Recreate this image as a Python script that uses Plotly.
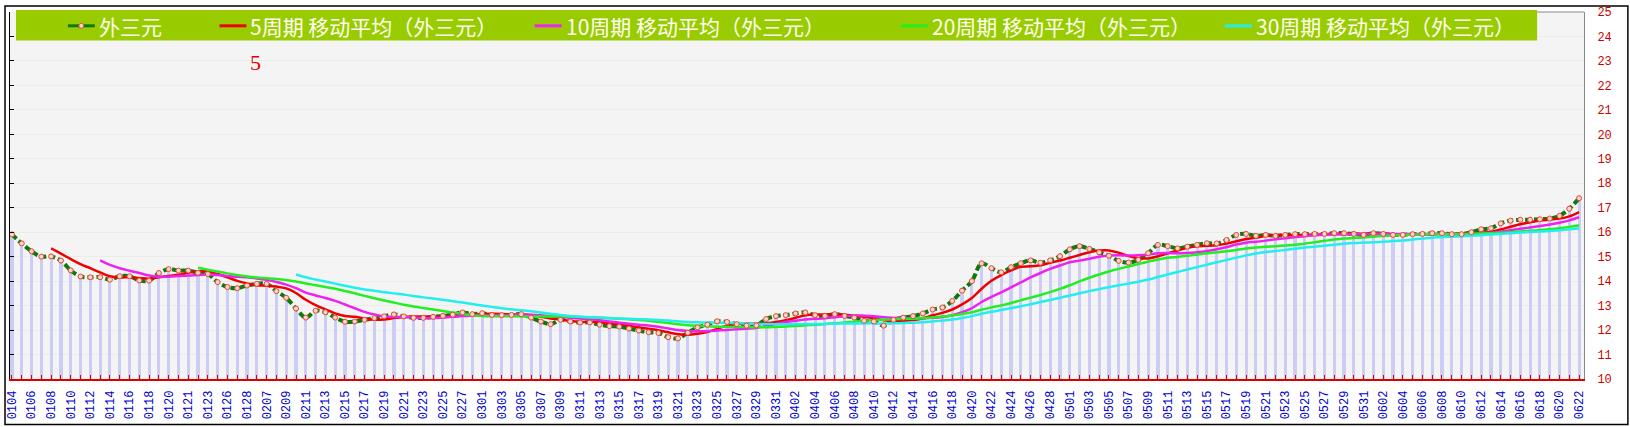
import pandas as pd
import plotly.graph_objects as go

# every second trading day is labelled on the x axis
date_labels = [
    "0104", "0106", "0108", "0110", "0112", "0114", "0116", "0118", "0120", "0121",
    "0123", "0126", "0128", "0207", "0209", "0211", "0213", "0215", "0217", "0219",
    "0221", "0223", "0225", "0227", "0301", "0303", "0305", "0307", "0309", "0311",
    "0313", "0315", "0317", "0319", "0321", "0323", "0325", "0327", "0329", "0331",
    "0402", "0404", "0406", "0408", "0410", "0412", "0414", "0416", "0418", "0420",
    "0422", "0424", "0426", "0428", "0501", "0503", "0505", "0507", "0509", "0511",
    "0513", "0515", "0517", "0519", "0521", "0523", "0525", "0527", "0529", "0531",
    "0602", "0604", "0606", "0608", "0610", "0612", "0614", "0616", "0618", "0620",
    "0622",
]

# 外三元 price, one value per trading day
price = [
    15.91, 15.54, 15.22, 15.00, 15.01, 14.84, 14.44, 14.19, 14.16, 14.16,
    14.06, 14.20, 14.20, 14.03, 14.02, 14.33, 14.49, 14.43, 14.43, 14.34,
    14.29, 13.96, 13.76, 13.71, 13.82, 13.89, 13.89, 13.59, 13.32, 12.88,
    12.51, 12.79, 12.73, 12.51, 12.34, 12.35, 12.42, 12.49, 12.56, 12.64,
    12.56, 12.50, 12.50, 12.54, 12.58, 12.63, 12.72, 12.65, 12.69, 12.62,
    12.61, 12.62, 12.65, 12.51, 12.35, 12.24, 12.42, 12.35, 12.31, 12.31,
    12.22, 12.16, 12.14, 12.06, 11.98, 11.91, 11.88, 11.71, 11.66, 11.89,
    12.11, 12.22, 12.36, 12.33, 12.24, 12.18, 12.19, 12.45, 12.57, 12.61,
    12.68, 12.72, 12.61, 12.58, 12.65, 12.58, 12.51, 12.38, 12.35, 12.18,
    12.42, 12.51, 12.57, 12.68, 12.84, 12.92, 13.19, 13.61, 14.00, 14.73,
    14.53, 14.36, 14.57, 14.73, 14.85, 14.75, 14.85, 15.02, 15.30, 15.43,
    15.32, 15.18, 15.04, 14.83, 14.76, 14.87, 15.14, 15.48, 15.43, 15.34,
    15.41, 15.48, 15.55, 15.54, 15.68, 15.89, 15.93, 15.85, 15.89, 15.85,
    15.89, 15.92, 15.92, 15.93, 15.93, 15.96, 15.96, 15.93, 15.89, 15.96,
    15.93, 15.89, 15.89, 15.92, 15.93, 15.96, 15.96, 15.92, 15.92, 16.00,
    16.12, 16.16, 16.36, 16.47, 16.51, 16.51, 16.53, 16.56, 16.67, 16.96,
    17.39,
]

ma_periods = [5, 10, 20, 30]
ma_colors = ["#ee0000", "#ee22ee", "#22ee22", "#22eeee"]

W, H = 1630, 427
L, R, T, B = 6, 46, 7, 48


def px(x):
    return (x - L) / (W - L - R)


def py(y):
    return 1 - (y - T) / (H - T - B)


idx = list(range(len(price)))
s = pd.Series(price)
ticktext = [date_labels[i // 2] if i % 2 == 0 else "" for i in idx]

fig = go.Figure()
fig.add_trace(go.Bar(
    x=idx, y=price, width=0.32,
    marker=dict(color="#cbcdf6", line=dict(width=0)),
    hoverinfo="skip",
))
fig.add_trace(go.Scatter(
    x=idx, y=price, mode="lines",
    line=dict(color="#0a7a0a", width=4, dash="6px,3px", shape="spline"),
    name="外三元",
))
for p, c in zip(ma_periods, ma_colors):
    ma = s.rolling(p).mean()
    fig.add_trace(go.Scatter(
        x=idx, y=ma, mode="lines",
        line=dict(color=c, width=2.5, shape="spline"),
        name=f"{p}周期 移动平均（外三元）",
    ))
# point markers sit on the right-hand axis so they draw above every line
fig.add_trace(go.Scatter(
    x=idx, y=price, mode="markers", yaxis="y2",
    marker=dict(size=5, color="#ffd6cc", line=dict(color="#e04a3a", width=1)),
    hoverinfo="skip",
))

# hand-built legend strip across the top of the plot
shapes = [
    dict(type="rect", xref="paper", yref="paper",
         x0=px(12), x1=px(1537), y0=py(36), y1=py(5),
         fillcolor="#99cc00", line=dict(width=0), layer="above"),
    # outer frame and plot frame
    dict(type="rect", xref="paper", yref="paper",
         x0=px(1), x1=px(W - 2), y0=py(H - 2), y1=py(1),
         line=dict(color="black", width=1.5), layer="above"),
    dict(type="line", xref="paper", yref="paper",
         x0=px(1537), x1=1, y0=1, y1=1,
         line=dict(color="#888888", width=1), layer="above"),
]
annotations = []
leg_names = ["外三元"] + [f"{p}周期 移动平均（外三元）" for p in ma_periods]
leg_colors = ["#0a7a0a"] + ma_colors
leg_x = [64, 216, 532, 899, 1224]
for name, c, x0 in zip(leg_names, leg_colors, leg_x):
    shapes.append(dict(type="line", xref="paper", yref="paper",
                       x0=px(x0), x1=px(x0 + 27), y0=py(21), y1=py(21),
                       line=dict(color=c, width=3), layer="above"))
    annotations.append(dict(x=px(x0 + 29), y=py(21), xref="paper", yref="paper",
                            text=name, showarrow=False, xanchor="left", yanchor="middle",
                            font=dict(family="Noto Sans CJK SC", size=21, color="#fffff0")))
shapes.append(dict(type="circle", xref="paper", yref="paper",
                   x0=px(75), x1=px(80), y0=py(23.5), y1=py(18.5),
                   fillcolor="#ffd6cc", line=dict(color="#e04a3a", width=1), layer="above"))
annotations.append(dict(x=px(252), y=py(58), xref="paper", yref="paper", text="5",
                        showarrow=False, xanchor="center", yanchor="middle",
                        font=dict(family="Liberation Serif", size=22, color="#dd0000")))

fig.update_layout(
    width=W, height=H,
    margin=dict(l=L, r=R, t=T, b=B),
    paper_bgcolor="white",
    plot_bgcolor="#f5f4f4",
    showlegend=False,
    bargap=0,
    shapes=shapes,
    annotations=annotations,
    xaxis=dict(
        range=[-0.2, len(price) - 0.5],
        tickvals=idx, ticktext=ticktext, tickangle=-90,
        ticks="inside", ticklen=4, tickcolor="#dd0000",
        showline=True, linecolor="#dd0000", linewidth=1.5,
        showgrid=False, zeroline=False,
        ticklabelstandoff=5,
        tickfont=dict(family="Liberation Mono", size=12, color="#0000cc"),
    ),
    yaxis=dict(
        range=[10, 25], dtick=1, side="left",
        ticks="inside", ticklen=4, tickcolor="black",
        showticklabels=False,
        showline=True, linecolor="black", linewidth=1,
        showgrid=True, gridcolor="#ebebeb", zeroline=False,
    ),
    yaxis2=dict(
        range=[10, 25], dtick=1, overlaying="y", side="right", anchor="x",
        showline=True, linecolor="#888888", linewidth=1,
        ticks="outside", ticklen=10, tickcolor="rgba(0,0,0,0)",
        showgrid=False, zeroline=False,
        tickfont=dict(family="Liberation Mono", size=12, color="#cc0000"),
    ),
)

# drop the browser's default body margin so the figure fills the window exactly
fig.write_html("out.html", config={"displayModeBar": False},
               post_script="document.body.style.margin='0';")
